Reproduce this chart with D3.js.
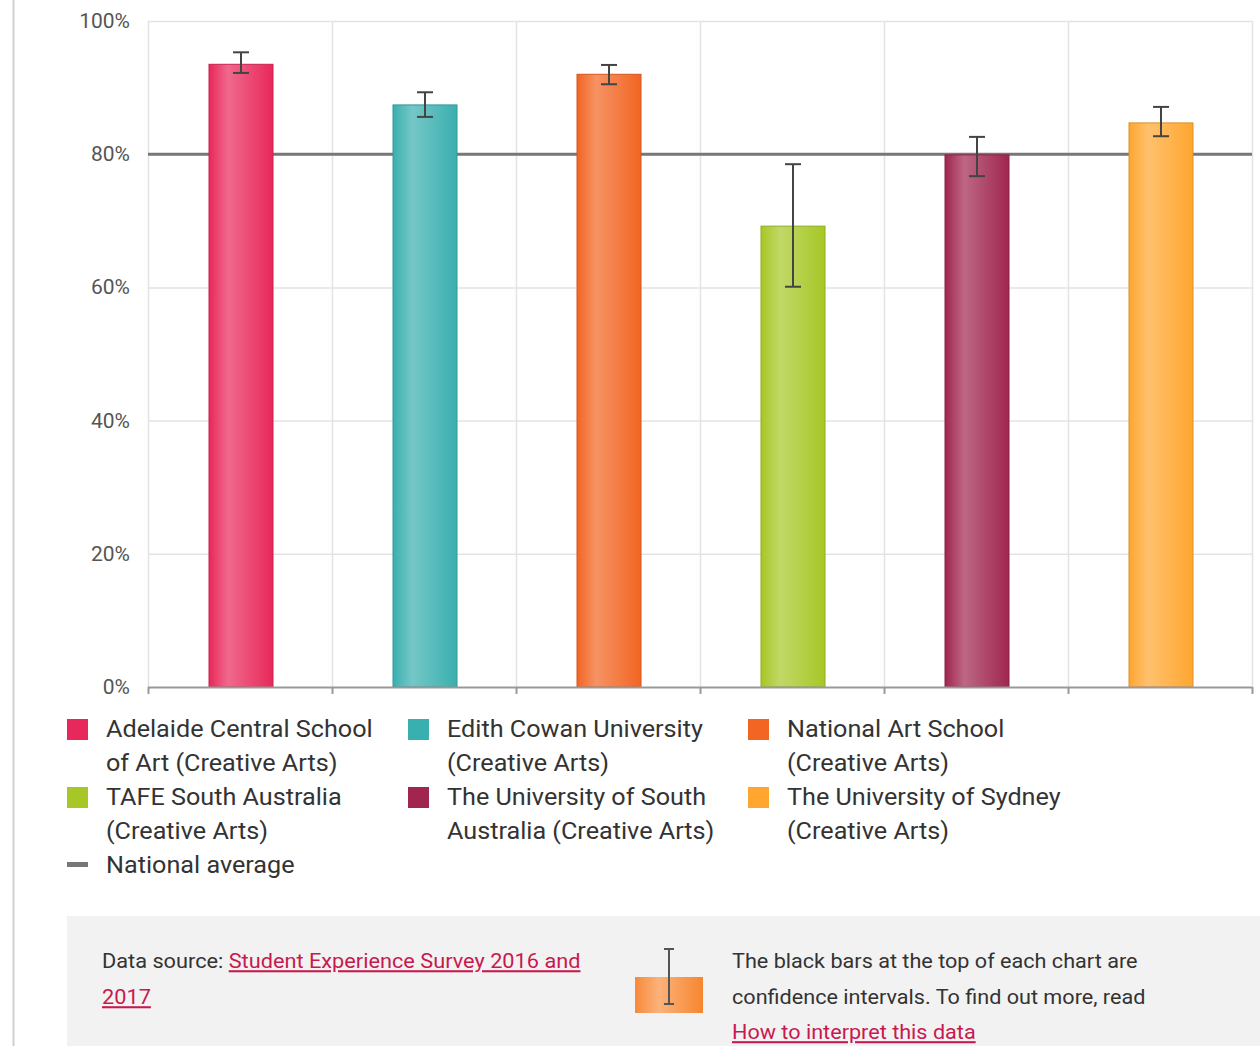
<!DOCTYPE html>
<html>
<head>
<meta charset="utf-8">
<script src="https://cdn.jsdelivr.net/npm/d3@7"></script>
<style>
  body { margin: 0; background: #fff; font-family: Roboto, "Noto Sans", sans-serif; }
</style>
</head>
<body>
<script>
const WIDTH = 1260
const HEIGHT = 1046
const STRETCH = 1.05 // the reference text is a bit wider than Roboto

const institutions = [
  'Adelaide Central School of Art (Creative Arts)',
  'Edith Cowan University (Creative Arts)',
  'National Art School (Creative Arts)',
  'TAFE South Australia (Creative Arts)',
  'The University of South Australia (Creative Arts)',
  'The University of Sydney (Creative Arts)'
]
const legendLines = [
  ['Adelaide Central School', 'of Art (Creative Arts)'],
  ['Edith Cowan University', '(Creative Arts)'],
  ['National Art School', '(Creative Arts)'],
  ['TAFE South Australia', '(Creative Arts)'],
  ['The University of South', 'Australia (Creative Arts)'],
  ['The University of Sydney', '(Creative Arts)']
]
const values = [93.5, 87.4, 92.0, 69.2, 79.9, 84.7]
const ciLow = [92.2, 85.6, 90.5, 60.1, 76.7, 82.7]
const ciHigh = [95.3, 89.3, 93.4, 78.5, 82.6, 87.1]
const colors = ['#e8285a', '#3aafaf', '#f26522', '#a6c726', '#a0264f', '#ffa630']
const nationalAverage = 80
const yTicks = [0, 20, 40, 60, 80, 100]

const svg = d3.select('body').append('svg')
  .attr('width', WIDTH)
  .attr('height', HEIGHT)

function addText(x, y, size, fill) {
  return svg.append('text')
    .attr('transform', `translate(${x},${y}) scale(${STRETCH},1)`)
    .attr('dy', '0.35em')
    .attr('font-size', size)
    .attr('fill', fill)
}

// page border line on the left
svg.append('line')
  .attr('x1', 13.5).attr('x2', 13.5)
  .attr('y1', 0).attr('y2', HEIGHT)
  .attr('stroke', '#d0d0d0').attr('stroke-width', 2)

const x = d3.scaleBand().domain(institutions).range([148, 1252])
const y = d3.scaleLinear().domain([0, 100]).range([687, 21])
const barW = 64

// gradients
const defs = svg.append('defs')
colors.forEach((c, i) => {
  const g = defs.append('linearGradient').attr('id', 'grad' + i)
  g.append('stop').attr('offset', '0%').attr('stop-color', c)
  g.append('stop').attr('offset', '30%').attr('stop-color', d3.interpolateRgb(c, '#fff')(0.3))
  g.append('stop').attr('offset', '100%').attr('stop-color', c)
})

// horizontal grid
svg.append('g')
  .selectAll('line')
  .data(yTicks.slice(1))
  .enter().append('line')
  .attr('x1', 148).attr('x2', 1252)
  .attr('y1', d => y(d) + 0.5).attr('y2', d => y(d) + 0.5)
  .attr('stroke', '#e3e3e3').attr('stroke-width', 1.5)

// vertical grid
const bounds = institutions.map(d => x(d)).concat([1252])
svg.append('g')
  .selectAll('line')
  .data(bounds)
  .enter().append('line')
  .attr('x1', d => d + 0.5).attr('x2', d => d + 0.5)
  .attr('y1', 21).attr('y2', 687)
  .attr('stroke', '#e3e3e3').attr('stroke-width', 1.5)

// y labels
yTicks.forEach(d => {
  addText(130, y(d), 20, '#555')
    .attr('text-anchor', 'end')
    .text(d + '%')
})

// national average
svg.append('line')
  .attr('x1', 148).attr('x2', 1252)
  .attr('y1', y(nationalAverage)).attr('y2', y(nationalAverage))
  .attr('stroke', '#777').attr('stroke-width', 3)

// bars
svg.append('g')
  .selectAll('rect')
  .data(institutions)
  .enter().append('rect')
  .attr('x', d => x(d) + x.bandwidth() / 2 - barW / 2 + 1)
  .attr('width', barW)
  .attr('y', (d, i) => y(values[i]))
  .attr('height', (d, i) => y(0) - y(values[i]))
  .attr('fill', (d, i) => `url(#grad${i})`)
  .attr('stroke', (d, i) => d3.color(colors[i]).darker(0.4))
  .attr('stroke-width', 1)

// x axis line + ticks
svg.append('line')
  .attr('x1', 148).attr('x2', 1252)
  .attr('y1', 687.5).attr('y2', 687.5)
  .attr('stroke', '#999').attr('stroke-width', 2)
svg.append('g')
  .selectAll('line')
  .data(bounds)
  .enter().append('line')
  .attr('x1', d => d + 0.5).attr('x2', d => d + 0.5)
  .attr('y1', 687).attr('y2', 694)
  .attr('stroke', '#999').attr('stroke-width', 2)

// error bars
const err = svg.append('g').attr('stroke', '#444').attr('stroke-width', 2)
institutions.forEach((d, i) => {
  const cx = x(d) + x.bandwidth() / 2 + 1
  err.append('line').attr('x1', cx).attr('x2', cx).attr('y1', y(ciHigh[i])).attr('y2', y(ciLow[i]))
  err.append('line').attr('x1', cx - 8).attr('x2', cx + 8).attr('y1', y(ciHigh[i])).attr('y2', y(ciHigh[i]))
  err.append('line').attr('x1', cx - 8).attr('x2', cx + 8).attr('y1', y(ciLow[i])).attr('y2', y(ciLow[i]))
})

// legend
const legendCols = [67, 408, 748]
const legendRows = [729, 797]
legendLines.forEach((lines, i) => {
  const lx = legendCols[i % 3]
  const ly = legendRows[Math.floor(i / 3)]
  svg.append('rect')
    .attr('x', lx).attr('y', ly - 10)
    .attr('width', 21).attr('height', 21)
    .attr('fill', colors[i])
  lines.forEach((t, j) => {
    addText(lx + 39, ly + j * 34, 24, '#333').text(t)
  })
})
svg.append('rect')
  .attr('x', 67).attr('y', 862).attr('width', 21).attr('height', 5)
  .attr('fill', '#777')
addText(106, 865, 24, '#333').text('National average')

// info box
svg.append('rect')
  .attr('x', 67).attr('y', 916).attr('width', WIDTH - 67).attr('height', HEIGHT - 916)
  .attr('fill', '#f2f2f2')

const linkColor = '#c8194f'
const src = addText(102, 961, 20.7, '#333')
src.append('tspan').text('Data source: ')
src.append('tspan').attr('fill', linkColor).attr('text-decoration', 'underline')
  .text('Student Experience Survey 2016 and')
addText(102, 997, 20.7, linkColor).attr('text-decoration', 'underline').text('2017')

// icon
const iconGrad = defs.append('linearGradient').attr('id', 'iconGrad')
iconGrad.append('stop').attr('offset', '0%').attr('stop-color', '#f7893a')
iconGrad.append('stop').attr('offset', '35%').attr('stop-color', '#fbb27a')
iconGrad.append('stop').attr('offset', '100%').attr('stop-color', '#f7862f')
svg.append('rect')
  .attr('x', 635).attr('y', 977).attr('width', 68).attr('height', 36)
  .attr('fill', 'url(#iconGrad)')
const icon = svg.append('g').attr('stroke', '#555').attr('stroke-width', 2)
icon.append('line').attr('x1', 669).attr('x2', 669).attr('y1', 949).attr('y2', 1004)
icon.append('line').attr('x1', 664).attr('x2', 674).attr('y1', 949).attr('y2', 949)
icon.append('line').attr('x1', 664).attr('x2', 674).attr('y1', 1004).attr('y2', 1004)

const infoLines = [
  'The black bars at the top of each chart are',
  'confidence intervals. To find out more, read'
]
infoLines.forEach((t, j) => {
  addText(732, 961 + j * 36, 20.6, '#333').text(t)
})
addText(732, 1032, 20.6, linkColor).attr('text-decoration', 'underline').text('How to interpret this data')
</script>
</body>
</html>
